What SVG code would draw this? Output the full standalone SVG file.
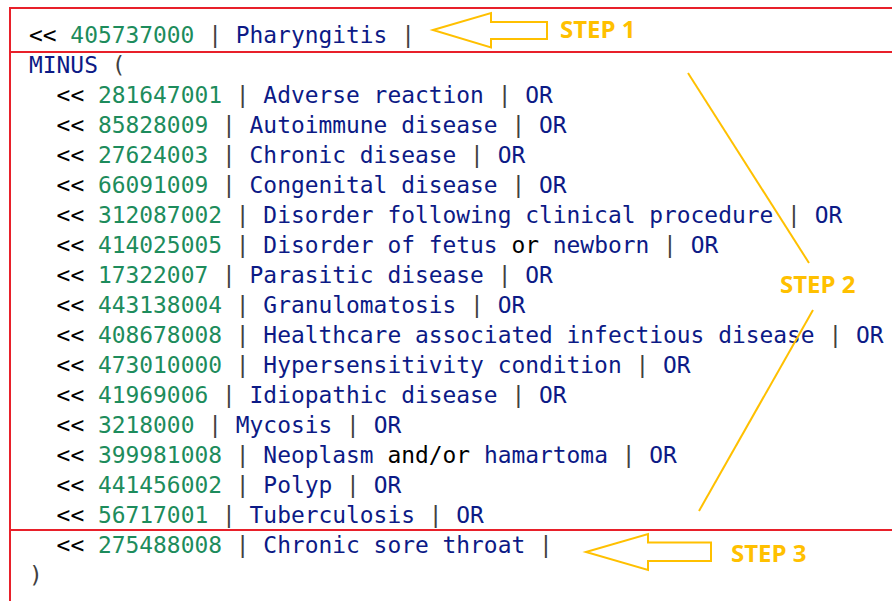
<svg xmlns="http://www.w3.org/2000/svg" width="892" height="601" viewBox="0 0 892 601">
  <style>
    .code { font-family: "DejaVu Sans Mono", "Liberation Mono", monospace; font-size: 22.9px; fill: #000000; white-space: pre; }
    .op { fill: #000000; }
    .id { fill: #1d8c5c; }
    .bar { fill: #404040; }
    .term { fill: #0c1a86; }
    .kw { fill: #0c1a86; }
    .frame { stroke: #e8202a; stroke-width: 2; fill: none; }
    .step { font-family: "Open Sans", "Liberation Sans", sans-serif; font-weight: 700; font-size: 24px; fill: #ffc000; }
    .arrow { fill: none; stroke: #ffc000; stroke-width: 2; stroke-linejoin: miter; }
    .link { stroke: #ffc000; stroke-width: 2; fill: none; }
  </style>

  <rect width="892" height="601" fill="#ffffff"/>

  <!-- expression constraint text, one row every 30px; nested rows indented two columns -->
  <g id="query" class="code" xml:space="preserve">
    <text x="29" y="43"><tspan class="op">&lt;&lt; </tspan><tspan class="id">405737000</tspan><tspan class="bar"> | </tspan><tspan class="term">Pharyngitis</tspan><tspan class="bar"> |</tspan></text>
    <text x="29" y="73"><tspan class="kw">MINUS</tspan><tspan class="bar"> (</tspan></text>
    <text x="56.6" y="103"><tspan class="op">&lt;&lt; </tspan><tspan class="id">281647001</tspan><tspan class="bar"> | </tspan><tspan class="term">Adverse reaction</tspan><tspan class="bar"> | </tspan><tspan class="kw">OR</tspan></text>
    <text x="56.6" y="133"><tspan class="op">&lt;&lt; </tspan><tspan class="id">85828009</tspan><tspan class="bar"> | </tspan><tspan class="term">Autoimmune disease</tspan><tspan class="bar"> | </tspan><tspan class="kw">OR</tspan></text>
    <text x="56.6" y="163"><tspan class="op">&lt;&lt; </tspan><tspan class="id">27624003</tspan><tspan class="bar"> | </tspan><tspan class="term">Chronic disease</tspan><tspan class="bar"> | </tspan><tspan class="kw">OR</tspan></text>
    <text x="56.6" y="193"><tspan class="op">&lt;&lt; </tspan><tspan class="id">66091009</tspan><tspan class="bar"> | </tspan><tspan class="term">Congenital disease</tspan><tspan class="bar"> | </tspan><tspan class="kw">OR</tspan></text>
    <text x="56.6" y="223"><tspan class="op">&lt;&lt; </tspan><tspan class="id">312087002</tspan><tspan class="bar"> | </tspan><tspan class="term">Disorder following clinical procedure</tspan><tspan class="bar"> | </tspan><tspan class="kw">OR</tspan></text>
    <text x="56.6" y="253"><tspan class="op">&lt;&lt; </tspan><tspan class="id">414025005</tspan><tspan class="bar"> | </tspan><tspan class="term">Disorder of fetus </tspan><tspan class="op">or</tspan><tspan class="term"> newborn</tspan><tspan class="bar"> | </tspan><tspan class="kw">OR</tspan></text>
    <text x="56.6" y="283"><tspan class="op">&lt;&lt; </tspan><tspan class="id">17322007</tspan><tspan class="bar"> | </tspan><tspan class="term">Parasitic disease</tspan><tspan class="bar"> | </tspan><tspan class="kw">OR</tspan></text>
    <text x="56.6" y="313"><tspan class="op">&lt;&lt; </tspan><tspan class="id">443138004</tspan><tspan class="bar"> | </tspan><tspan class="term">Granulomatosis</tspan><tspan class="bar"> | </tspan><tspan class="kw">OR</tspan></text>
    <text x="56.6" y="343"><tspan class="op">&lt;&lt; </tspan><tspan class="id">408678008</tspan><tspan class="bar"> | </tspan><tspan class="term">Healthcare associated infectious disease</tspan><tspan class="bar"> | </tspan><tspan class="kw">OR</tspan></text>
    <text x="56.6" y="373"><tspan class="op">&lt;&lt; </tspan><tspan class="id">473010000</tspan><tspan class="bar"> | </tspan><tspan class="term">Hypersensitivity condition</tspan><tspan class="bar"> | </tspan><tspan class="kw">OR</tspan></text>
    <text x="56.6" y="403"><tspan class="op">&lt;&lt; </tspan><tspan class="id">41969006</tspan><tspan class="bar"> | </tspan><tspan class="term">Idiopathic disease</tspan><tspan class="bar"> | </tspan><tspan class="kw">OR</tspan></text>
    <text x="56.6" y="433"><tspan class="op">&lt;&lt; </tspan><tspan class="id">3218000</tspan><tspan class="bar"> | </tspan><tspan class="term">Mycosis</tspan><tspan class="bar"> | </tspan><tspan class="kw">OR</tspan></text>
    <text x="56.6" y="463"><tspan class="op">&lt;&lt; </tspan><tspan class="id">399981008</tspan><tspan class="bar"> | </tspan><tspan class="term">Neoplasm </tspan><tspan class="op">and/or</tspan><tspan class="term"> hamartoma</tspan><tspan class="bar"> | </tspan><tspan class="kw">OR</tspan></text>
    <text x="56.6" y="493"><tspan class="op">&lt;&lt; </tspan><tspan class="id">441456002</tspan><tspan class="bar"> | </tspan><tspan class="term">Polyp</tspan><tspan class="bar"> | </tspan><tspan class="kw">OR</tspan></text>
    <text x="56.6" y="523"><tspan class="op">&lt;&lt; </tspan><tspan class="id">56717001</tspan><tspan class="bar"> | </tspan><tspan class="term">Tuberculosis</tspan><tspan class="bar"> | </tspan><tspan class="kw">OR</tspan></text>
    <text x="56.6" y="553"><tspan class="op">&lt;&lt; </tspan><tspan class="id">275488008</tspan><tspan class="bar"> | </tspan><tspan class="term">Chronic sore throat</tspan><tspan class="bar"> |</tspan></text>
    <text x="29" y="583"><tspan class="bar">)</tspan></text>
  </g>

  <!-- red section frame: focus concept, exclusions, final exclusion -->
  <g id="frame" class="frame">
    <polyline points="892,8 10,8 10,601"/>
    <line x1="10" y1="52" x2="892" y2="52"/>
    <line x1="10" y1="530" x2="892" y2="530"/>
  </g>

  <g id="step1">
    <polygon class="arrow" points="433,30 491,13 491,22 547,22 547,39 491,39 491,47.5"/>
    <text class="step" x="560" y="38">STEP 1</text>
  </g>

  <g id="step2">
    <text class="step" x="780" y="293">STEP 2</text>
  </g>

  <g id="step3">
    <polygon class="arrow" points="586,552 648,534 648,542.5 711,542.5 711,561 648,561 648,570"/>
    <text class="step" x="731" y="562">STEP 3</text>
  </g>

  <!-- leader lines from the STEP 2 label -->
  <g id="connectors" class="link">
    <line x1="688" y1="73" x2="809" y2="263"/>
    <line x1="813" y1="310" x2="699" y2="511"/>
  </g>
</svg>
